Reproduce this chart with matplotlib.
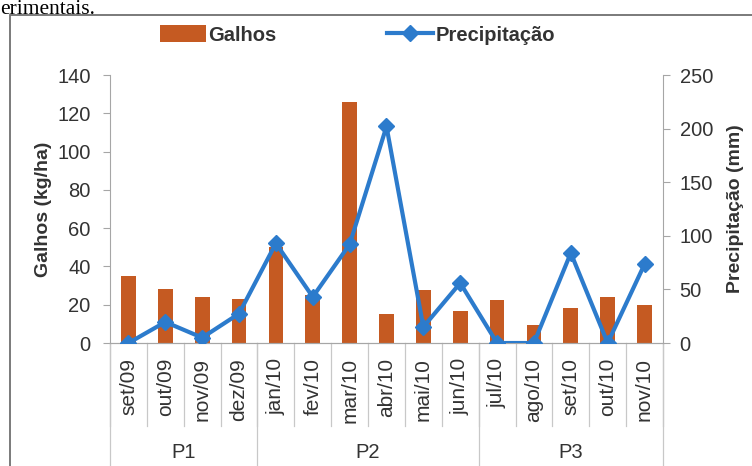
'''
Galhos x precipitacao, periodos P1 a P3
'''

import matplotlib
matplotlib.use('Agg')
import matplotlib.pyplot as plt
from matplotlib.patches import Rectangle

MONTHS = ['set/09', 'out/09', 'nov/09', 'dez/09', 'jan/10', 'fev/10',
          'mar/10', 'abr/10', 'mai/10', 'jun/10', 'jul/10', 'ago/10',
          'set/10', 'out/10', 'nov/10']
GALHOS = [35, 28.3, 24.1, 23, 50, 25, 126, 15.4, 27.6, 16.8,
          22.7, 9.3, 18.5, 23.8, 20.1]
PRECIPITACAO = [0, 19.6, 5, 27.4, 93, 43, 92, 202, 15, 56,
                0, 0, 84, 0, 73.5]
PERIODS = ['P1', 'P2', 'P3']
PERIOD_SIZES = [4, 6, 5]

BAR_COLOR = '#C55A22'
LINE_COLOR = '#2C7BCC'
TEXT_COLOR = '#333333'
AXIS_COLOR = '#A6A6A6'

plt.rcParams['font.family'] = ['Liberation Sans', 'DejaVu Sans']


def draw_category_axis(ax):
    '''
    Month labels plus the P1/P2/P3 grouping below them
    '''
    trans = ax.get_xaxis_transform()
    ax.set_xticks(range(len(MONTHS)))
    ax.set_xticklabels([])
    ax.tick_params(axis='x', length=0)
    for i, month in enumerate(MONTHS):
        ax.text(i, -0.055, month, transform=trans, rotation=90,
                ha='center', va='top', fontsize=15, color=TEXT_COLOR)
    # short separators between months
    for i in range(len(MONTHS) + 1):
        ax.plot([i - 0.5, i - 0.5], [0, -0.31], transform=trans,
                color='#C8C8C8', lw=0.9, clip_on=False)
    # long separators between periods
    start = 0
    edges = [-0.5]
    for name, size in zip(PERIODS, PERIOD_SIZES):
        ax.text(start + (size - 1) / 2, -0.41, name, transform=trans,
                ha='center', va='center', fontsize=14.5, color=TEXT_COLOR)
        start += size
        edges.append(start - 0.5)
    for edge in edges:
        ax.plot([edge, edge], [0, -0.5], transform=trans,
                color='#C8C8C8', lw=0.9, clip_on=False)


def plot_chart():
    '''
    Bars on the left axis, precipitation line on the right axis
    '''
    fig = plt.figure(figsize=(7.52, 4.66), dpi=100)
    ax = fig.add_axes([0.1463, 0.2639, 0.7353, 0.5751])
    ax2 = ax.twinx()

    x = range(len(MONTHS))
    bars = ax.bar(x, GALHOS, width=0.4, color=BAR_COLOR, zorder=2)
    line, = ax2.plot(x, PRECIPITACAO, color=LINE_COLOR, lw=3,
                     marker='D', markersize=8, zorder=3)
    ax.set_zorder(ax2.get_zorder() - 1)
    ax.patch.set_visible(False)
    ax2.patch.set_visible(False)

    ax.set_xlim(-0.5, len(MONTHS) - 0.5)
    ax.set_ylim(0, 140)
    ax.set_yticks(range(0, 141, 20))
    ax2.set_ylim(0, 250)
    ax2.set_yticks(range(0, 251, 50))

    for axis in (ax, ax2):
        axis.spines['top'].set_visible(False)
        for side in ('left', 'right', 'bottom'):
            axis.spines[side].set_color(AXIS_COLOR)
        axis.tick_params(axis='y', labelsize=14.5, colors=TEXT_COLOR,
                         length=5, color=AXIS_COLOR, pad=9)
    ax.spines['right'].set_visible(False)
    ax2.spines['left'].set_visible(False)
    ax2.tick_params(axis='y', pad=7)

    ax.set_ylabel('Galhos (kg/ha)', fontsize=14, fontweight='bold',
                  color=TEXT_COLOR, labelpad=4)
    ax2.set_ylabel('Precipitação (mm)', fontsize=14, fontweight='bold',
                   color=TEXT_COLOR, labelpad=10)

    draw_category_axis(ax)

    fig.legend([bars, line], ['Galhos', 'Precipitação'], loc='center',
               bbox_to_anchor=(0.475, 1 - 35 / 466), ncol=2, frameon=False,
               prop={'weight': 'bold', 'size': 14.5}, labelcolor=TEXT_COLOR,
               columnspacing=5.5, handlelength=2.3, handletextpad=0.1,
               handleheight=0.9)

    # outer frame of the scanned figure
    fig.patches.append(Rectangle((10 / 752, -0.2), 2, 1.2 - 15 / 466,
                                 transform=fig.transFigure, fill=False,
                                 edgecolor='#707070', lw=1.3))
    fig.text(0.0, 1 - 14.5 / 466, 'erimentais.', fontsize=15.5,
             family=['Liberation Serif', 'DejaVu Serif'], va='baseline')

    fig.savefig('out.png', dpi=100)


plot_chart()
